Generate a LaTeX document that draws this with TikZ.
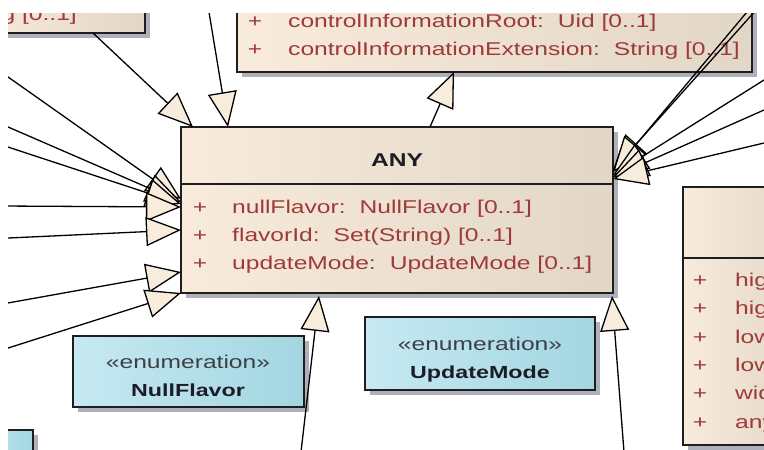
\documentclass[tikz,border=0pt]{standalone}
\usepackage{fontspec}
\setmainfont[FakeStretch=1.33]{Liberation Sans}
\usetikzlibrary{arrows.meta,calc,shadows}

\definecolor{classL}{HTML}{F8EBDC}
\definecolor{classR}{HTML}{E2D6C6}
\definecolor{enumL}{HTML}{C6E9F2}
\definecolor{enumR}{HTML}{A3D6E1}
\definecolor{attr}{HTML}{9E3A3A}
\definecolor{shad}{HTML}{B0B0BA}
\definecolor{tipfill}{HTML}{F8ECDC}
\definecolor{edge}{HTML}{1E1E1E}
\definecolor{nametx}{HTML}{1C1C28}

\newcommand\colgap{\hspace{14pt}}

\tikzset{
  box/.style={draw=edge, line width=1.6pt, inner sep=0pt, outer sep=0pt,
    general shadow={fill=shad, shadow xshift=5pt, shadow yshift=-5pt}},
  classbox/.style={box, left color=classL, right color=classR},
  enumbox/.style={box, left color=enumL, right color=enumR},
  sepline/.style={draw=edge, line width=1.6pt},
  attrtxt/.style={text=attr, font=\fontsize{18.5}{20}\selectfont, anchor=base west, inner sep=0pt},
  plustxt/.style={text=attr, font=\fontsize{18.5}{20}\selectfont, anchor=base, inner sep=0pt},
  nametxt/.style={text=nametx, font=\fontsize{18.5}{20}\selectfont\bfseries, anchor=base, inner sep=0pt},
  stereotxt/.style={text=nametx!85, font=\fontsize{18.5}{20}\selectfont, anchor=base, inner sep=0pt},
  enumname/.style={text=nametx, font=\fontsize{17.5}{19}\selectfont\bfseries, anchor=base, inner sep=0pt},
  gen/.style={draw=black, line width=1.3pt,
    -{Triangle[length=35pt,width=29pt,fill=tipfill,line width=1.3pt]}},
}

\begin{document}
\begin{tikzpicture}[x=1pt,y=-1pt]
\useasboundingbox (0,0) rectangle (764,450);
\clip (8,13) rectangle (764,450);

% ---------- top-left class (clipped) ----------
\node[classbox, minimum width=170pt, minimum height=60pt, anchor=south east] (tl) at (145,33) {};
\node[attrtxt, anchor=base east] (tlt) at (77,20.5) {String [0..1]};

% ---------- top centre class ----------
\node[classbox, minimum width=515pt, minimum height=120pt, anchor=south west] (top) at (237,72) {};
\node[plustxt] (tp1) at (255,27.5) {+};
\node[attrtxt] (ta1) at (288,27.5) {controlInformationRoot:\colgap Uid [0..1]};
\node[plustxt] (tp2) at (255,55.5) {+};
\node[attrtxt] (ta2) at (288,55.5) {controlInformationExtension:\colgap String [0..1]};

% ---------- ANY ----------
\node[classbox, minimum width=432pt, minimum height=166pt, anchor=north west] (any) at (181,127) {};
\draw[sepline] ($(any.north west)+(0,57)$) -- ($(any.north east)+(0,57)$);
\node[nametxt] (anyname) at (397,166) {ANY};
\node[plustxt] (ap1) at (200,213) {+};
\node[attrtxt] (aa1) at (232,213) {nullFlavor:\colgap NullFlavor [0..1]};
\node[plustxt] (ap2) at (200,241) {+};
\node[attrtxt] (aa2) at (232,241) {flavorId:\colgap Set(String) [0..1]};
\node[plustxt] (ap3) at (200,269) {+};
\node[attrtxt] (aa3) at (232,269) {updateMode:\colgap UpdateMode [0..1]};

% ---------- right class (clipped) ----------
\node[classbox, minimum width=120pt, minimum height=258pt, anchor=north west] (ivl) at (683,187) {};
\draw[sepline] ($(ivl.north west)+(0,71)$) -- ($(ivl.north east)+(0,71)$);
\node[plustxt] (rp1) at (700,286) {+};
\node[attrtxt] (ra1) at (735,286) {high};
\node[plustxt] (rp2) at (700,314) {+};
\node[attrtxt] (ra2) at (735,314) {highClosed};
\node[plustxt] (rp3) at (700,343) {+};
\node[attrtxt] (ra3) at (735,343) {low};
\node[plustxt] (rp4) at (700,371) {+};
\node[attrtxt] (ra4) at (735,371) {lowClosed};
\node[plustxt] (rp5) at (700,399) {+};
\node[attrtxt] (ra5) at (735,399) {width};
\node[plustxt] (rp6) at (700,428) {+};
\node[attrtxt] (ra6) at (735,428) {any};

% ---------- enumerations ----------
\node[enumbox, minimum width=231pt, minimum height=71pt, anchor=north west] (nf) at (73,336) {};
\node[stereotxt] (nfs) at (188,368) {«enumeration»};
\node[enumname] (nfn) at (188,396) {NullFlavor};

\node[enumbox, minimum width=230pt, minimum height=73pt, anchor=north west] (um) at (365,317) {};
\node[stereotxt] (ums) at (480,350) {«enumeration»};
\node[enumname] (umn) at (480,378) {UpdateMode};

\node[enumbox, minimum width=60pt, minimum height=60pt, anchor=north east] (bl) at (33,430) {};

% ---------- free ends ----------
\coordinate (l1) at (0,71.3);
\coordinate (l2) at (0,123.5);
\coordinate (l3) at (0,144.4);
\coordinate (l4) at (0,206);
\coordinate (l5) at (0,238.4);
\coordinate (l6) at (0,304.4);
\coordinate (l7) at (0,350.6);
\coordinate (t2) at (207,0);
\coordinate (r1) at (765,0);
\coordinate (r2) at (757,0);
\coordinate (r3) at (764,80);
\coordinate (r4) at (764,110);
\coordinate (r5) at (764,143);
\coordinate (b1) at (301,452);
\coordinate (b2) at (624,452);

% ---------- generalisations ----------
\draw[gen] (l1) -- ($(any.north west)+(0,72)$);
\draw[gen] (l2) -- ($(any.north west)+(0,75)$);
\draw[gen] (l3) -- ($(any.north west)+(0,77)$);
\draw[gen] (l4) -- ($(any.north west)+(0,80)$);
\draw[gen] (l5) -- ($(any.north west)+(0,103)$);
\draw[gen] (l6) -- ($(any.north west)+(0,145)$);
\draw[gen] (l7) -- ($(any.north west)+(0,166)$);

\draw[gen] ($(tl.south east)+(-52,0)$) -- ($(any.north west)+(12,0)$);
\draw[gen] (t2) -- ($(any.north west)+(47,0)$);
\draw[gen] ($(any.north west)+(249,0)$) -- ($(top.south west)+(217,0)$);

\draw[gen] (r1) -- ($(any.north east)+(0,43)$);
\draw[gen] (r2) -- ($(any.north east)+(0,45)$);
\draw[gen] (r3) -- ($(any.north east)+(0,48)$);
\draw[gen] (r4) -- ($(any.north east)+(0,50)$);
\draw[gen] (r5) -- ($(any.north east)+(0,52)$);

\draw[gen] (b1) -- ($(any.south west)+(138,3)$);
\draw[gen] (b2) -- ($(any.south east)+(-1,3)$);
\end{tikzpicture}
\end{document}
